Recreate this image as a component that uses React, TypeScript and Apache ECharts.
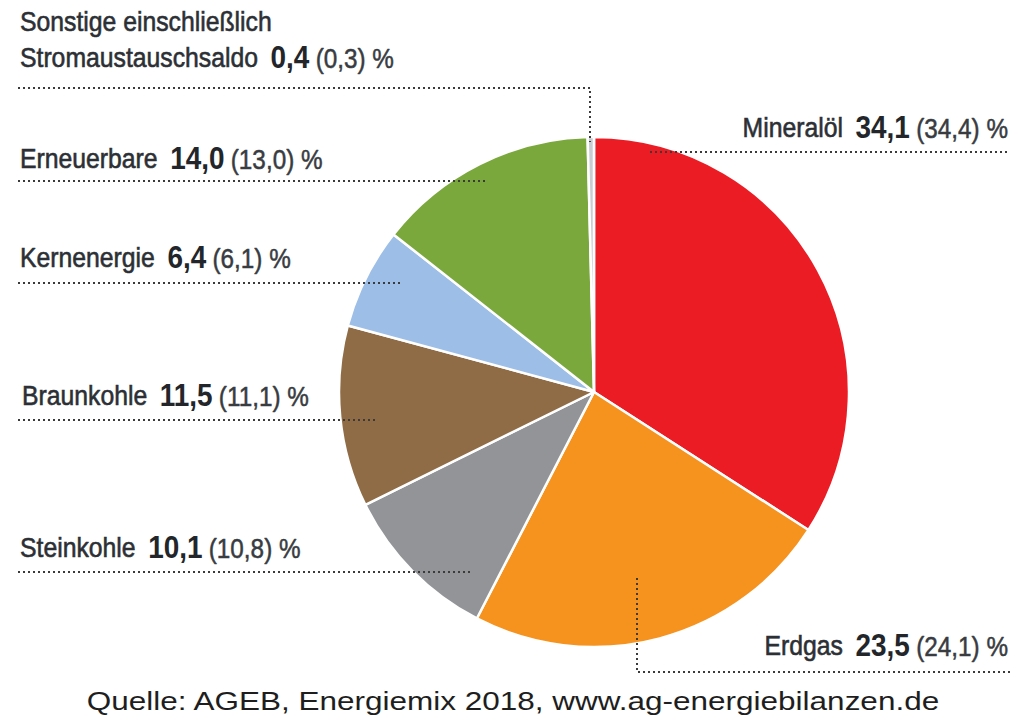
import React, { useEffect, useRef } from "react";
import * as echarts from "echarts";

const categories = [
  "Mineralöl",
  "Erdgas",
  "Steinkohle",
  "Braunkohle",
  "Kernenergie",
  "Erneuerbare",
  "Stromaustauschsaldo",
];
const values2018 = [34.1, 23.5, 10.1, 11.5, 6.4, 14.0, 0.4];
const values2017 = [34.4, 24.1, 10.8, 11.1, 6.1, 13.0, 0.3];
const sliceColors = ["#ec1c24", "#f6921e", "#929497", "#8f6c45", "#9dbee6", "#7aa83c", "#c9cdd2"];
const extraFirstLine = "Sonstige einschließlich";
const sourceText = "Quelle: AGEB, Energiemix 2018, www.ag-energiebilanzen.de";

// label placement (layout only)
const labelLayout = [
  { x: 1008, y: 127, align: "right", line: [[650, 152], [1010, 152]] },
  { x: 1008, y: 645, align: "right", line: [[637, 578], [637, 672], [1010, 672]] },
  { x: 20, y: 547, align: "left", line: [[18, 572], [470, 572]] },
  { x: 22, y: 395, align: "left", line: [[18, 420], [375, 420]] },
  { x: 20, y: 257, align: "left", line: [[18, 283], [400, 283]] },
  { x: 20, y: 158, align: "left", line: [[18, 181], [487, 181]] },
  { x: 20, y: 57, align: "left", line: [[18, 88], [590, 88], [590, 142]] },
];

const fmt = (v: number) => v.toFixed(1).replace(".", ",");
const FONT = "'Liberation Sans', Arial, sans-serif";
const SX = 0.9;
const TXT = "#2c3035";
const PTXT = "#383c41";

const rich = {
  n: { fontFamily: FONT, fontSize: 27.5, lineHeight: 30, fill: TXT, stroke: TXT, lineWidth: 0.6, verticalAlign: "bottom", padding: [0, 14, 0, 0] },
  v: { fontFamily: FONT, fontSize: 31, lineHeight: 30, fontWeight: "bold", fill: "#22262a", verticalAlign: "bottom", padding: [0, 7, 0, 0] },
  p: { fontFamily: FONT, fontSize: 27, lineHeight: 30, fill: PTXT, stroke: PTXT, lineWidth: 0.5, verticalAlign: "bottom" },
};

export default function App() {
  const ref = useRef<HTMLDivElement>(null);
  useEffect(() => {
    if (!ref.current) return;
    const chart = echarts.init(ref.current, null, { renderer: "svg" });
    const graphics: any[] = [];
    categories.forEach((c, i) => {
      const L = labelLayout[i];
      graphics.push({
        type: "polyline",
        z: 100,
        shape: { points: L.line },
        style: { stroke: "#3a3a3a", lineWidth: 2, lineDash: [2, 3], fill: null },
        silent: true,
      });
      graphics.push({
        type: "text",
        z: 100,
        x: L.x,
        y: L.y,
        scaleX: SX,
        style: {
          text: `{n|${c}}{v|${fmt(values2018[i])}}{p|(${fmt(values2017[i])}) %}`,
          rich,
          align: L.align,
          verticalAlign: "middle",
        },
        silent: true,
      });
    });
    graphics.push({
      type: "text",
      z: 100,
      x: 20,
      y: 22,
      scaleX: SX,
      style: {
        text: extraFirstLine,
        fontFamily: FONT,
        fontSize: 27.5,
        fill: TXT,
        stroke: TXT,
        lineWidth: 0.6,
        align: "left",
        verticalAlign: "middle",
      },
      silent: true,
    });
    graphics.push({
      type: "text",
      z: 100,
      x: 513,
      y: 701,
      scaleX: 1.26,
      style: {
        text: sourceText,
        fontFamily: FONT,
        fontSize: 25,
        fill: "#1e1e1e",
        align: "center",
        verticalAlign: "middle",
      },
      silent: true,
    });

    chart.setOption({
      animation: false,
      backgroundColor: "#fff",
      graphic: graphics,
      series: [
        {
          type: "pie",
          center: [594, 392],
          radius: 255,
          startAngle: 90,
          clockwise: true,
          silent: true,
          label: { show: false },
          labelLine: { show: false },
          itemStyle: { borderColor: "#fff", borderWidth: 2.5 },
          data: categories.map((c, i) => ({
            name: c,
            value: values2018[i],
            itemStyle: { color: sliceColors[i] },
          })),
        },
      ],
    });
    return () => chart.dispose();
  }, []);
  return (
    <div
      ref={ref}
      style={{ position: "fixed", left: 0, top: 0, width: 1014, height: 720 }}
    />
  );
}
